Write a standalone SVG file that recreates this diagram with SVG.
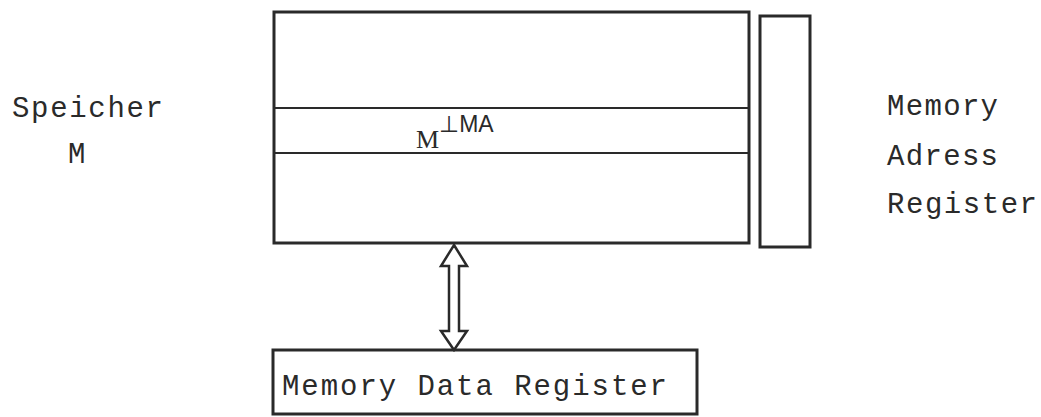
<svg xmlns="http://www.w3.org/2000/svg" width="1041" height="417" viewBox="0 0 1041 417">
<style>
.box{fill:none;stroke:#2a2a2a;stroke-width:3}
.sep{stroke:#2a2a2a;stroke-width:2}
.t{font-family:"Liberation Mono","DejaVu Sans Mono",monospace;font-size:29px;fill:#2a2a2a}
.arr{fill:#fff;stroke:#2a2a2a;stroke-width:2.5;stroke-linejoin:miter}
</style>
<rect width="1041" height="417" fill="#fff"/>
<g id="memory">
<rect class="box" x="274" y="12" width="475" height="231"/>
<line class="sep" x1="274" y1="108" x2="749" y2="108"/>
<line class="sep" x1="274" y1="153" x2="749" y2="153"/>
<text x="416" y="148" font-family="Liberation Serif, serif" font-size="26" fill="#2a2a2a">M<tspan dy="-16" font-family="Liberation Sans, sans-serif" font-size="23">⊥MA</tspan></text>
</g>
<g id="speicher-label">
<text class="t" x="12" y="117" textLength="151">Speicher</text>
<text class="t" x="68" y="163">M</text>
</g>
<g id="mar">
<rect class="box" x="760" y="16" width="50" height="231"/>
</g>
<g id="mar-label">
<text class="t" x="887" y="115" textLength="111">Memory</text>
<text class="t" x="887" y="165" textLength="111">Adress</text>
<text class="t" x="887" y="213" textLength="150">Register</text>
</g>
<g id="mdr">
<rect class="box" x="273" y="350" width="424" height="64"/>
<text class="t" x="282" y="395" textLength="385">Memory Data Register</text>
</g>
<g id="connectors">
<path class="arr" d="M454,245 L467,266 L459,266 L459,331 L467,331 L454,350 L441,331 L449,331 L449,266 L441,266 Z"/>
</g>
</svg>
